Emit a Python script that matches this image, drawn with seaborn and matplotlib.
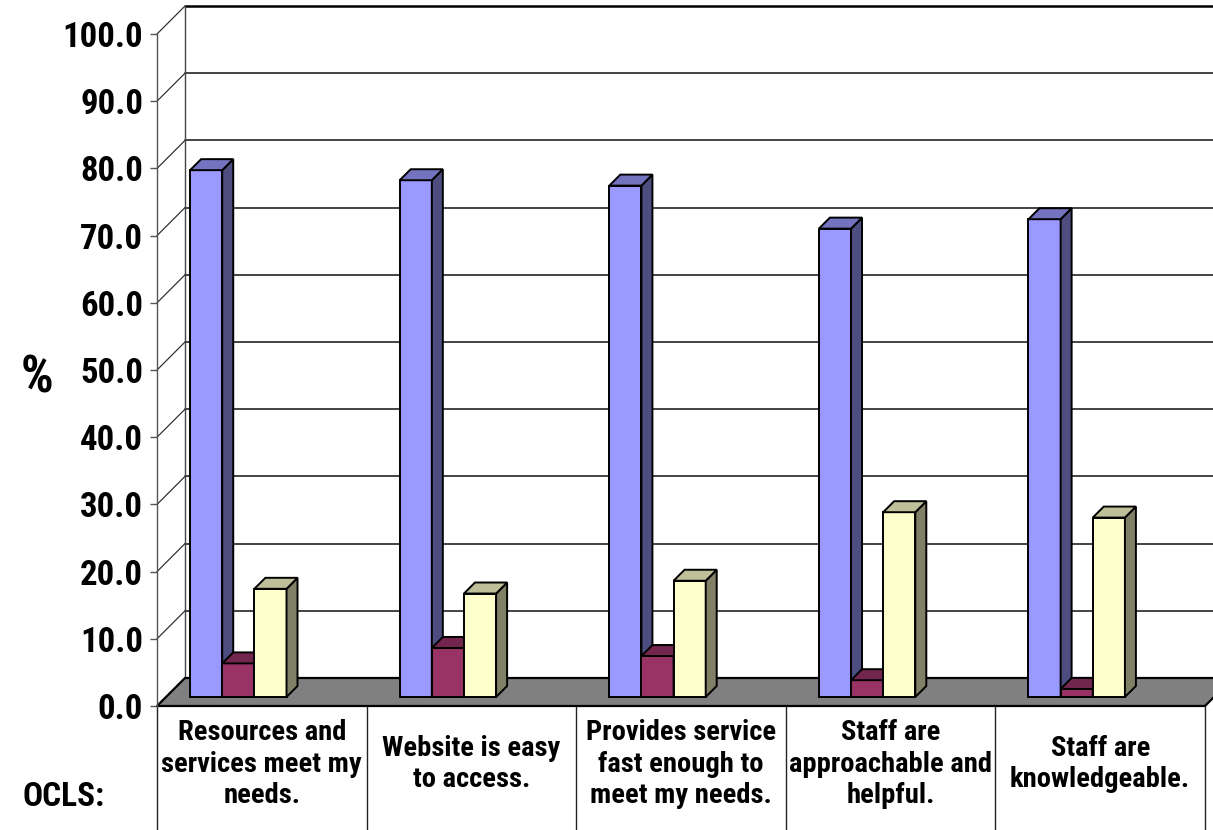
import numpy as np
import pandas as pd
import matplotlib
matplotlib.use("Agg")
import matplotlib.pyplot as plt
from matplotlib import font_manager
from matplotlib.patches import Polygon
from matplotlib.transforms import Affine2D
import seaborn as sns

# ---- data -------------------------------------------------------------
categories = [
    "Resources and\nservices meet my\nneeds.",
    "Website is easy\nto access.",
    "Provides service\nfast enough to\nmeet my needs.",
    "Staff are\napproachable and\nhelpful.",
    "Staff are\nknowledgeable.",
]
responses = ["agree", "disagree", "neutral"]
agree = [78.4, 76.9, 76.1, 69.7, 71.1]
disagree = [5.0, 7.3, 6.1, 2.5, 1.2]
neutral = [16.1, 15.4, 17.3, 27.5, 26.7]
y_ticks = list(range(0, 101, 10))
front_colors = ["#9999FF", "#993366", "#FFFFCC"]

df = pd.DataFrame({
    "item": categories * 3,
    "response": np.repeat(responses, len(categories)),
    "pct": agree + disagree + neutral,
})

# ---- style ------------------------------------------------------------
sns.set_theme(style="white")
names = {f.name for f in font_manager.fontManager.ttflist}
narrow = None
for cand in ["Liberation Sans Narrow", "Roboto Condensed", "Open Sans Condensed"]:
    if cand in names:
        narrow = cand
        break
if narrow:
    plt.rcParams["font.family"] = [narrow, "DejaVu Sans"]
else:
    plt.rcParams["font.family"] = ["DejaVu Sans"]
    plt.rcParams["font.stretch"] = "condensed"
plt.rcParams["font.weight"] = "bold"
plt.rcParams["text.color"] = "black"

W, H = 1213, 830
fig = plt.figure(figsize=(W / 100, H / 100), dpi=100)
fig.patch.set_facecolor("white")
# front plane of the 3-D box: x cells of one category each, y in percent
ax = fig.add_axes([157 / W, 124 / H, 1048 / W, 672 / H])
ax.set_xlim(-0.5, 4.5)
ax.set_ylim(0, 100)

PX_X = 1048 / 5.0      # pixels per category
PX_Y = 672 / 100.0     # pixels per percent
WALL_DX, WALL_DY = 28 / PX_X, 28 / PX_Y     # depth of the box
BAR_DX, BAR_DY = 11 / PX_X, 11 / PX_Y       # depth of each column
bar_shift = Affine2D().translate(-23.5 / PX_X, 9 / PX_Y) + ax.transData

# back wall gridlines
for v in y_ticks[1:]:
    ax.plot([-0.5 + WALL_DX, 4.6 + WALL_DX], [v + WALL_DY] * 2,
            color="black" if v == 100 else "#111111",
            lw=1.8 if v == 100 else 1.1, clip_on=False, zorder=0.5)
# back-left edge and side-wall diagonals
ax.plot([-0.5 + WALL_DX] * 2, [WALL_DY, 100 + WALL_DY], color="#444444",
        lw=1.0, clip_on=False, zorder=0.6)
for v in y_ticks:
    ax.plot([-0.5, -0.5 + WALL_DX], [v, v + WALL_DY], color="#333333",
            lw=0.9, clip_on=False, zorder=0.6)

# floor
floor = Polygon([(-0.5, 0), (4.5, 0), (4.5 + WALL_DX, WALL_DY),
                 (-0.5 + WALL_DX, WALL_DY)], closed=True,
                facecolor="#808080", edgecolor="black", lw=1.6,
                clip_on=False, zorder=1)
ax.add_patch(floor)

# columns
sns.barplot(data=df, x="item", y="pct", hue="response", order=categories,
            hue_order=responses, palette=front_colors, width=0.46,
            dodge=True, saturation=1, errorbar=None, legend=False,
            edgecolor="black", linewidth=1.4, ax=ax)

for p in list(ax.patches):
    if p is floor:
        continue
    x0, w, h = p.get_x(), p.get_width(), p.get_height()
    rgb = np.array(p.get_facecolor()[:3])
    z = 3 + x0
    p.set_transform(bar_shift)
    p.set_zorder(z)
    p.set_clip_on(False)
    side = Polygon([(x0 + w, 0), (x0 + w + BAR_DX, BAR_DY),
                    (x0 + w + BAR_DX, h + BAR_DY), (x0 + w, h)],
                   closed=True, facecolor=rgb * 0.5, edgecolor="black",
                   lw=1.4, transform=bar_shift, zorder=z, clip_on=False)
    top = Polygon([(x0, h), (x0 + BAR_DX, h + BAR_DY),
                   (x0 + w + BAR_DX, h + BAR_DY), (x0 + w, h)],
                  closed=True, facecolor=rgb * 0.75, edgecolor="black",
                  lw=1.4, transform=bar_shift, zorder=z, clip_on=False)
    ax.add_patch(side)
    ax.add_patch(top)

# category cells under the floor
ax.vlines(np.arange(-0.5, 5.0, 1.0), -20, 0, colors="#222222", lw=1.0,
          clip_on=False, zorder=1)

# axes styling
for s in ["top", "right", "bottom"]:
    ax.spines[s].set_visible(False)
ax.spines["left"].set_color("#555555")
ax.spines["left"].set_linewidth(1.0)
ax.set_yticks(y_ticks, [f"{v:.1f}" for v in y_ticks])
ax.tick_params(axis="y", left=True, length=5, width=1.0, color="#555555",
               pad=5, labelsize=25, labelcolor="black")
ax.set_xticks(range(len(categories)), categories)
ax.tick_params(axis="x", length=0, pad=41.8, labelsize=20.5,
               labelcolor="black")
for lbl in ax.get_xticklabels():
    lbl.set_va("center")
    lbl.set_ha("center")
    lbl.set_linespacing(1.2)
ax.set_xlabel("")
ax.set_ylabel("%", rotation=0, fontsize=37, fontweight="bold", color="black",
              va="center", ha="center")
ax.yaxis.set_label_coords(-0.1145, 0.488)
ax.text(-0.0888, -0.1354, "OCLS:", transform=ax.transAxes, ha="center",
        va="center", fontsize=24, fontweight="bold", color="black")

fig.savefig("out.png", dpi=100)
